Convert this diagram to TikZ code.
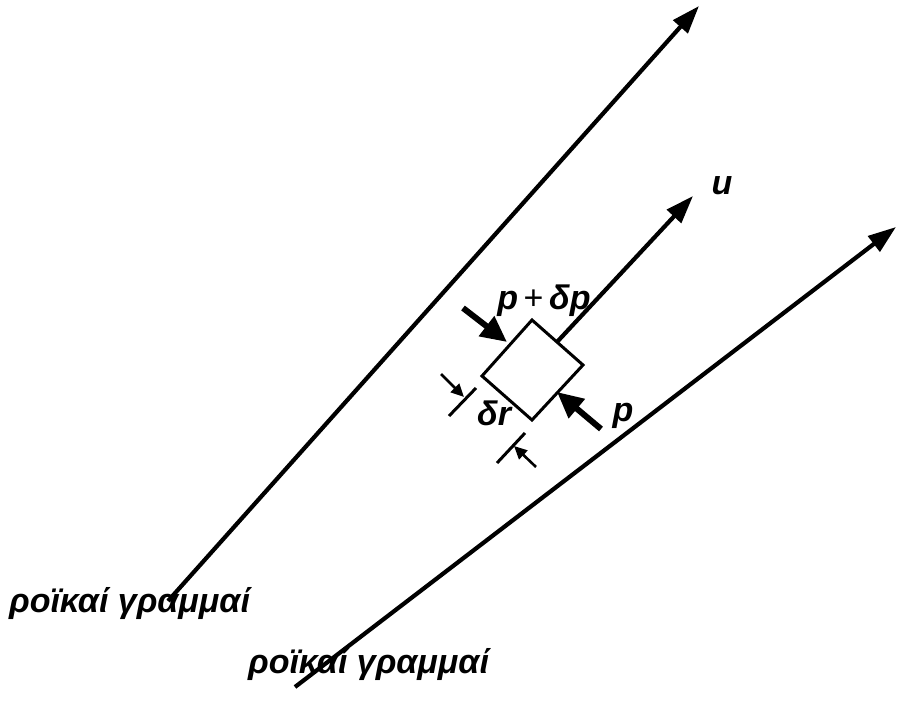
\documentclass[tikz,border=0pt]{standalone}
\usepackage{fontspec}
\setmainfont{Liberation Sans}
\usetikzlibrary{arrows.meta}
\tikzset{
  stream/.style={line width=4.2pt, -{Triangle[length=28pt,width=19pt]}},
  force/.style={line width=6pt, -{Triangle[length=26pt,width=24pt]}},
  small/.style={line width=2.6pt, -{Triangle[length=13pt,width=12pt]}},
  tick/.style={line width=3pt},
  lbl/.style={font=\fontsize{34}{37}\selectfont\bfseries\itshape, inner sep=0pt},
  elem/.style={line width=3pt, line join=miter}
}
\begin{document}
\begin{tikzpicture}[x=1pt,y=-1pt]
\useasboundingbox (0,0) rectangle (897,714);
% stream lines
\coordinate (s1a) at (168,601);
\coordinate (s1b) at (699,6);
\coordinate (s2a) at (295,687);
\coordinate (s2b) at (896,227);
\draw[stream] (s1a) -- (s1b);
\draw[stream] (s2a) -- (s2b);
% element
\coordinate (L) at (482,376);
\coordinate (T) at (532,320);
\coordinate (R) at (583,365);
\coordinate (B) at (532,420);
\draw[elem] (L) -- (T) -- (R) -- (B) -- cycle;
% u arrow
\coordinate (u0) at (557,342);
\coordinate (u1) at (693,196);
\draw[stream] (u0) -- (u1);
\node[lbl] (ulab) at (722,186) {u};
% forces
\coordinate (f1a) at (463,308);
\coordinate (f1b) at (507,342);
\draw[force] (f1a) -- (f1b);
\node[lbl] (pdp) at (544,301) {p\,{\mdseries\upshape+}\,δp};
\coordinate (f2a) at (601,429);
\coordinate (f2b) at (557,392);
\draw[force] (f2a) -- (f2b);
\node[lbl] (plab) at (623,416) {p};
% delta r dimension
\coordinate (t1a) at (449,416);
\coordinate (t1b) at (476,388);
\draw[tick] (t1a) -- (t1b);
\coordinate (a1a) at (441,374);
\coordinate (a1b) at (464,397);
\draw[small] (a1a) -- (a1b);
\coordinate (t2a) at (497,463);
\coordinate (t2b) at (525,433);
\draw[tick] (t2a) -- (t2b);
\coordinate (a2a) at (536,467);
\coordinate (a2b) at (514,446);
\draw[small] (a2a) -- (a2b);
\node[lbl] (dr) at (494,413) {δr};
% labels
\node[lbl, anchor=base west] (sl1) at (9,612) {ροϊκαί γραμμαί};
\node[lbl, anchor=base west] (sl2) at (248,673) {ροϊκαί γραμμαί};
\end{tikzpicture}
\end{document}
